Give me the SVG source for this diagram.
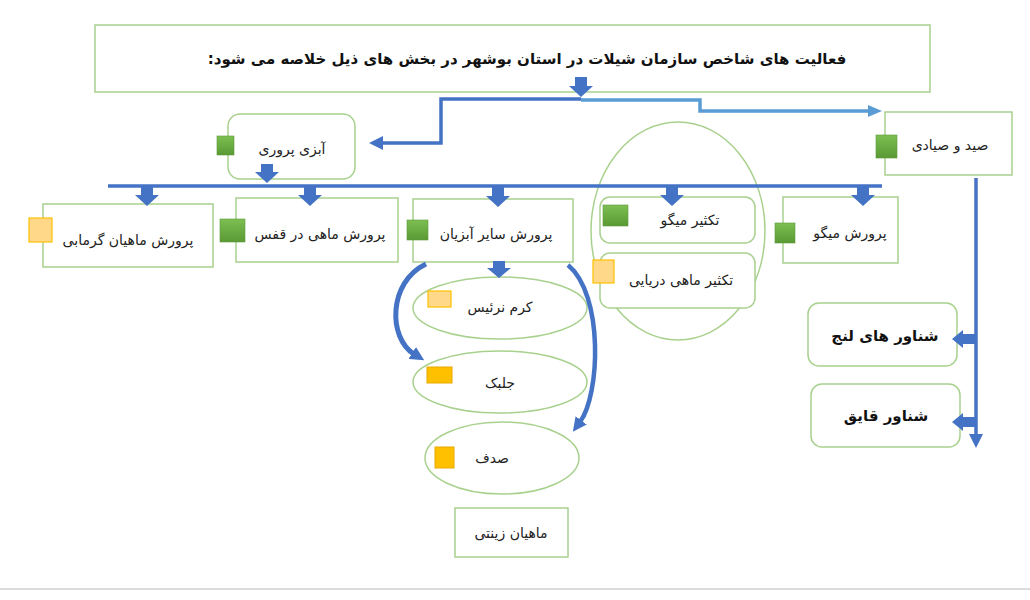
<svg xmlns="http://www.w3.org/2000/svg" width="1030" height="600" viewBox="0 0 1030 600">
<defs>
<style>
.box{fill:#fff;stroke:#A9D18E;stroke-width:1.5}
.ell{fill:none;stroke:#A9D18E;stroke-width:1.5}
.t{font-family:"DejaVu Sans",sans-serif;font-size:14px;fill:#222;text-anchor:middle;direction:rtl}
.tb{font-family:"DejaVu Sans",sans-serif;font-size:15px;font-weight:bold;fill:#111;text-anchor:middle;direction:rtl}
.blk{fill:#4472C4}
.ln{fill:none;stroke:#4472C4;stroke-width:3.5}
.lnl{fill:none;stroke:#5B9BD5;stroke-width:3.5}
.sqg{fill:url(#gg);stroke:#5E9A3A;stroke-width:0.6}
.sqo{fill:#FFD88A;stroke:#FFC000;stroke-width:1.2}
.sqy{fill:#FFC000;stroke:#E8A800;stroke-width:1}
</style>
<linearGradient id="gg" x1="0" y1="0" x2="0" y2="1">
<stop offset="0" stop-color="#7DBF52"/>
<stop offset="1" stop-color="#5A9934"/>
</linearGradient>
<marker id="ah" markerUnits="userSpaceOnUse" markerWidth="14" markerHeight="14" refX="2" refY="7" orient="auto">
<path d="M0,0 L14,7 L0,14 Z" fill="#4472C4"/>
</marker>
<marker id="ahl" markerUnits="userSpaceOnUse" markerWidth="14" markerHeight="12" refX="2" refY="6" orient="auto">
<path d="M0,0 L14,6 L0,12 Z" fill="#5B9BD5"/>
</marker>
</defs>
<rect width="1030" height="600" fill="#fff"/>
<line x1="0" y1="589" x2="1030" y2="589" stroke="#D0D0D0" stroke-width="1.5"/>

<g id="title">
<rect class="box" x="95" y="25" width="835" height="67"/>
<text class="tb" x="527" y="64" font-size="17">فعالیت های شاخص سازمان شیلات در استان بوشهر در بخش های ذیل خلاصه می شود:</text>
</g>

<g id="abzi">
<rect class="box" x="228" y="114" width="127" height="65" rx="12"/>
<rect class="sqg" x="217" y="136" width="17" height="19"/>
<text class="t" x="292" y="154">آبزی پروری</text>
</g>

<g id="seyd">
<rect class="box" x="885" y="112" width="127" height="63"/>
<rect class="sqg" x="876" y="135" width="21" height="23"/>
<text class="t" x="950" y="150">صید و صیادی</text>
</g>

<g id="garmabi">
<rect class="box" x="43" y="204" width="170" height="63"/>
<rect class="sqo" x="29" y="218" width="23" height="24"/>
<text class="t" x="128" y="245">پرورش ماهیان گرمابی</text>
</g>

<g id="ghafas">
<rect class="box" x="236" y="198" width="162" height="64"/>
<rect class="sqg" x="220" y="219" width="25" height="23"/>
<text class="t" x="320" y="239">پرورش ماهی در قفس</text>
</g>

<g id="sayer">
<rect class="box" x="413" y="199" width="160" height="63"/>
<rect class="sqg" x="407" y="220" width="21" height="20"/>
<text class="t" x="496" y="239">پرورش سایر آبزیان</text>
</g>

<g id="taksir-group">
<ellipse class="ell" cx="678" cy="231" rx="87" ry="109"/>
</g>

<g id="taksir-meygu">
<rect class="box" x="600" y="197" width="155" height="46" rx="10"/>
<rect class="sqg" x="603" y="205" width="25" height="21"/>
<text class="t" x="690" y="225">تکثیر میگو</text>
</g>

<g id="taksir-mahi">
<rect class="box" x="600" y="253" width="155" height="55" rx="10"/>
<rect class="sqo" x="593" y="260" width="21" height="23"/>
<text class="t" x="681" y="285">تکثیر ماهی دریایی</text>
</g>

<g id="parvaresh-meygu">
<rect class="box" x="783" y="197" width="115" height="66"/>
<rect class="sqg" x="775" y="223" width="20" height="20"/>
<text class="t" x="850" y="238">پرورش میگو</text>
</g>

<g id="lenj">
<rect class="box" x="808" y="303" width="149" height="63" rx="11"/>
<text class="tb" x="885" y="341">شناور های لنج</text>
</g>

<g id="ghayegh">
<rect class="box" x="811" y="384" width="149" height="63" rx="11"/>
<text class="tb" x="886" y="421">شناور قایق</text>
</g>

<g id="kerm">
<ellipse class="ell" cx="500" cy="308" rx="87" ry="31"/>
<rect class="sqo" x="428" y="291" width="23" height="16"/>
<text class="t" x="500" y="312">کرم نرئیس</text>
</g>

<g id="jolbak">
<ellipse class="ell" cx="500" cy="382" rx="87" ry="31"/>
<rect class="sqy" x="427" y="367" width="25" height="16"/>
<text class="t" x="500" y="388">جلبک</text>
</g>

<g id="sadaf">
<ellipse class="ell" cx="502" cy="458" rx="77" ry="36"/>
<rect class="sqy" x="435" y="447" width="19" height="21"/>
<text class="t" x="492" y="463">صدف</text>
</g>

<g id="zinati">
<rect class="box" x="455" y="508" width="113" height="49"/>
<text class="t" x="511" y="538">ماهیان زینتی</text>
</g>

<g id="connectors">
<path class="ln" d="M581,99 L441,99 L441,143 L381,143" marker-end="url(#ah)"/>
<path class="lnl" d="M581,100 L700,100 L700,111 L870,111" marker-end="url(#ahl)"/>
<line class="ln" x1="108" y1="186" x2="882" y2="186"/>
<path class="ln" d="M976,178 L976,436" stroke-width="4" marker-end="url(#ah)"/>
<path class="blk" d="M575,77 L587,77 L587,86 L593,86 L581,97 L569,86 L575,86 Z"/>
<path class="blk" d="M261,164 L273,164 L273,172 L279,172 L267,183 L255,172 L261,172 Z"/>
<path class="blk" d="M141,187 L153,187 L153,195 L159,195 L147,206 L135,195 L141,195 Z"/>
<path class="blk" d="M304,187 L316,187 L316,195 L322,195 L310,206 L298,195 L304,195 Z"/>
<path class="blk" d="M492,187 L504,187 L504,196 L510,196 L498,207 L486,196 L492,196 Z"/>
<path class="blk" d="M666,187 L678,187 L678,195 L684,195 L672,206 L660,195 L666,195 Z"/>
<path class="blk" d="M857,187 L869,187 L869,195 L875,195 L863,206 L851,195 L857,195 Z"/>
<path class="blk" d="M493,261 L505,261 L505,268 L511,268 L499,278 L487,268 L493,268 Z"/>
<path class="blk" d="M976,334 L963,334 L963,330 L952,339 L963,348 L963,344 L976,344 Z"/>
<path class="blk" d="M976,417 L963,417 L963,413 L952,422 L963,431 L963,427 L976,427 Z"/>
<path d="M426,264 C388,282 388,338 414,354" fill="none" stroke="#4472C4" stroke-width="5" marker-end="url(#ah)"/>
<path d="M568,265 C604,295 600,395 580,422" fill="none" stroke="#4472C4" stroke-width="4.5" marker-end="url(#ah)"/>
</g>
</svg>
